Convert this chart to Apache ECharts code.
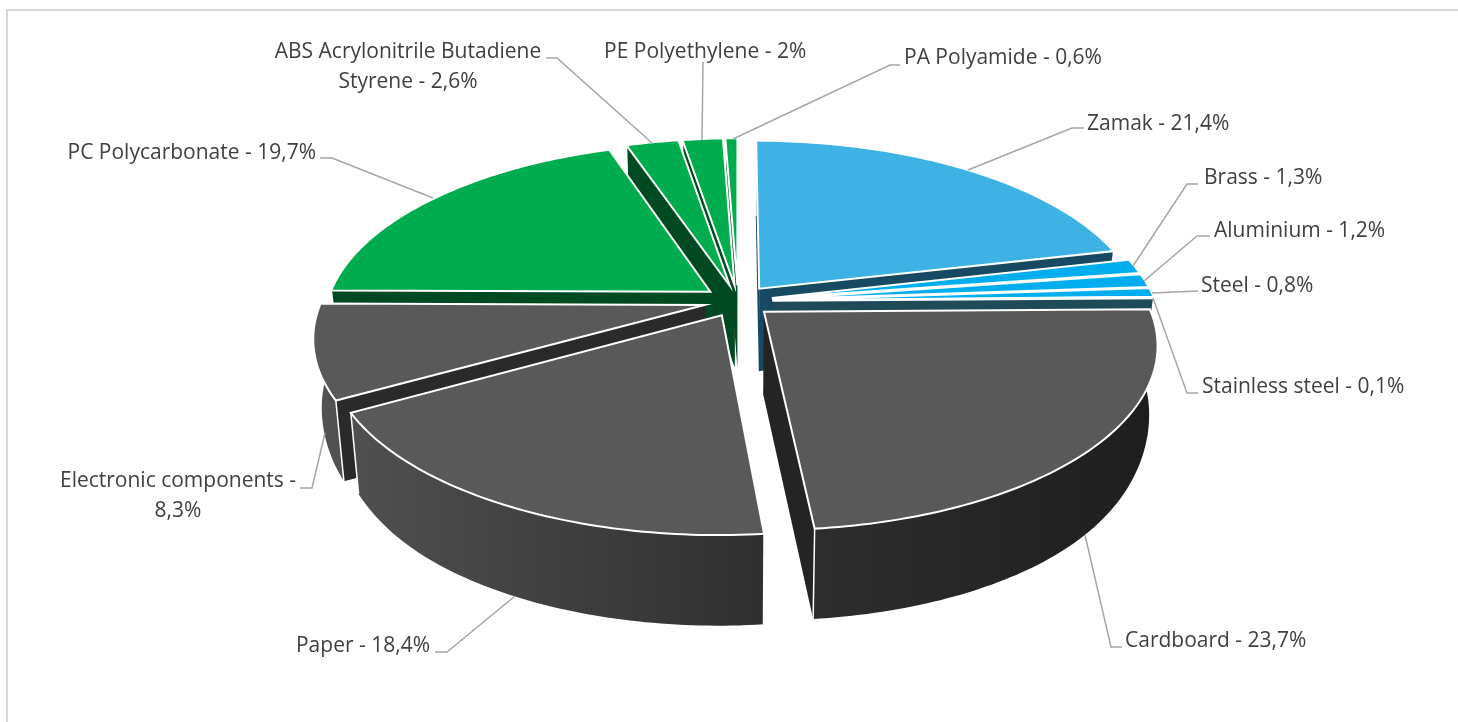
<!DOCTYPE html>
<html lang="en">
<head>
    <meta charset="UTF-8">
    <title>Materials</title>
    <script src="https://cdn.jsdelivr.net/npm/echarts@6/dist/echarts.min.js"></script>
</head>
<style>
    *{
        margin: 0;
        padding: 0;
    }
    html,body{
        width: 100%;
        height: 100%;
        overflow: hidden;
        background: #fff;
    }
    .container{
        width: 1458px;
        height: 722px;
    }
</style>
<body>
<div class="container"></div>
<script>
    // chart values
    const categories = ['Zamak', 'Brass', 'Aluminium', 'Steel', 'Stainless steel', 'Cardboard', 'Paper',
        'Electronic components', 'PC Polycarbonate', 'ABS Acrylonitrile Butadiene Styrene', 'PE Polyethylene', 'PA Polyamide'];
    const values = [21.4, 1.3, 1.2, 0.8, 0.1, 23.7, 18.4, 8.3, 19.7, 2.6, 2, 0.6];

    // colours of the slices: top, wall
    const topColors = ['#3eb1e5', '#00aeef', '#00aeef', '#00aeef', '#00aeef', '#595959', '#595959', '#595959', '#00ad4e', '#00ad4e', '#00ad4e', '#00ad4e'];
    const wallColors = ['#174a62', '#1f4a58', '#1f4a58', '#1f4a58', '#1f4a58', '#242424', '#2a2a2a', '#2a2a2a', '#004a22', '#004a22', '#004a22', '#004a22'];

    // label placement: text anchor, align, leader line
    const labelBreaks = {'Electronic components': 'Electronic components -\n', 'ABS Acrylonitrile Butadiene Styrene': 'ABS Acrylonitrile Butadiene\nStyrene - '};
    const labelAnchors = [[1087, 124, 'left'], [1204, 178, 'left'], [1214, 231, 'left'], [1201, 286, 'left'], [1202, 387, 'left'],
        [1125, 641, 'left'], [430, 646, 'right'], [178, 496, 'center'], [316, 153, 'right'], [408, 67, 'center'], [604, 52, 'left'], [904, 58, 'left']];
    const leaders = [
        [[968, 170], [1072, 128], [1084, 128]],
        [[1133, 266], [1187, 184], [1198, 184]],
        [[1144, 281], [1197, 236], [1210, 236]],
        [[1152, 293], [1198, 291]],
        [[1153, 298], [1187, 393], [1198, 393]],
        [[1085, 535], [1111, 647], [1122, 647]],
        [[515, 596], [447, 652], [435, 652]],
        [[325, 433], [312, 488], [300, 488]],
        [[433, 198], [332, 158], [320, 158]],
        [[652, 143], [557, 58], [546, 58]],
        [[702, 140], [703, 62]],
        [[733, 139], [890, 65], [900, 65]]
    ];

    // projection of the tilted disc, explode is in disc radii
    const cx = 738, cy = 301, radius = 383, minor = 177, persp = 0.17, explode = 0.09;
    const depthBase = 83, depthFront = 7, depthSide = 18, bottomShrink = 0.98;

    let total = values.reduce((a, b) => a + b, 0);
    let starts = [];
    let run = 0;
    values.forEach(v => {
        starts.push(run / total * Math.PI * 2);
        run += v;
    });
    let angleOf = i => [starts[i], starts[i] + values[i] / total * Math.PI * 2];
    let midOf = i => {
        let a = angleOf(i);
        return (a[0] + a[1]) / 2;
    };

    function project(angle, r, mid, bottom) {
        let u = r * Math.sin(angle) + explode * Math.sin(mid);
        let v = -r * Math.cos(angle) - explode * Math.cos(mid);
        let s = 1 / (1 - persp * v);
        let x = radius * u * s;
        let y = minor * v * s;
        if (bottom) {
            x = x * bottomShrink;
            // the wall looks shorter towards the far left and right of the disc
            y = y + depthBase + depthFront * v - depthSide * Math.pow(r * Math.sin(angle), 8);
        }
        return [cx + x, cy + y];
    }

    function greyWall() {
        return new echarts.graphic.LinearGradient(320, 0, 1150, 0, [
            {offset: 0, color: '#525252'},
            {offset: 0.53, color: '#303030'},
            {offset: 1, color: '#1e1e1e'}
        ], true);
    }

    function renderSlice(params, api) {
        let i = api.value(0);
        let a = angleOf(i);
        let mid = midOf(i);
        let topRim = [], bottomRim = [];
        let n = Math.max(2, Math.ceil((a[1] - a[0]) / (Math.PI / 180)));
        for (let k = 0; k <= n; k++) {
            let t = a[0] + (a[1] - a[0]) * k / n;
            topRim.push(project(t, 1, mid, false));
            bottomRim.push(project(t, 1, mid, true));
        }
        let apexTop = project(0, 0, mid, false);
        let apexBottom = project(0, 0, mid, true);
        let wallFill = topColors[i] == '#595959' ? greyWall() : wallColors[i];
        let last = topRim.length - 1;
        let children = [
            {type: 'polygon', shape: {points: [apexTop, topRim[0], bottomRim[0], apexBottom]}, style: {fill: wallColors[i]}},
            {type: 'polygon', shape: {points: [apexTop, topRim[last], bottomRim[last], apexBottom]}, style: {fill: wallColors[i]}},
            {type: 'polygon', shape: {points: topRim.concat(bottomRim.slice().reverse())}, style: {fill: wallFill}},
            {type: 'polyline', shape: {points: [topRim[0], bottomRim[0]]}, style: {stroke: '#fff', lineWidth: 1.5, fill: 'none'}},
            {type: 'polyline', shape: {points: [topRim[last], bottomRim[last]]}, style: {stroke: '#fff', lineWidth: 1.5, fill: 'none'}},
            {type: 'polygon', shape: {points: [apexTop].concat(topRim)}, style: {fill: topColors[i], stroke: '#fff', lineWidth: 2, lineJoin: 'miter'}}
        ];
        return {type: 'group', children: children};
    }

    function labelText(i) {
        let name = categories[i];
        let num = String(values[i]).replace('.', ',') + '%';
        if (labelBreaks[name]) {
            return labelBreaks[name] + num;
        }
        return name + ' - ' + num;
    }

    function renderLabel(params, api) {
        let i = api.value(0);
        let anchor = labelAnchors[i];
        return {
            type: 'group',
            children: [
                {type: 'polyline', shape: {points: leaders[i]}, style: {stroke: '#a6a6a6', lineWidth: 1.5, fill: 'none'}},
                {
                    type: 'text',
                    style: {
                        x: anchor[0],
                        y: anchor[1],
                        text: labelText(i),
                        fill: '#404040',
                        font: '21px "Open Sans"',
                        lineHeight: 30,
                        align: anchor[2],
                        verticalAlign: 'middle'
                    }
                }
            ]
        };
    }

    // back slices are painted first
    let drawOrder = values.map((v, i) => i).sort((p, q) => (-Math.cos(midOf(p))) - (-Math.cos(midOf(q))));

    let mycharts = echarts.init(document.querySelector('.container'));
    mycharts.setOption({
        animation: false,
        backgroundColor: '#fff',
        graphic: [{
            type: 'rect',
            shape: {x: 7, y: 10, width: 1480, height: 740},
            style: {fill: 'none', stroke: '#d9d9d9', lineWidth: 2},
            silent: true
        }],
        series: [
            {
                type: 'custom',
                coordinateSystem: 'none',
                silent: true,
                renderItem: renderSlice,
                data: drawOrder.map(i => [i, values[i]])
            },
            {
                type: 'custom',
                coordinateSystem: 'none',
                silent: true,
                renderItem: renderLabel,
                data: values.map((v, i) => [i, v])
            }
        ]
    });
</script>
</body>
</html>
